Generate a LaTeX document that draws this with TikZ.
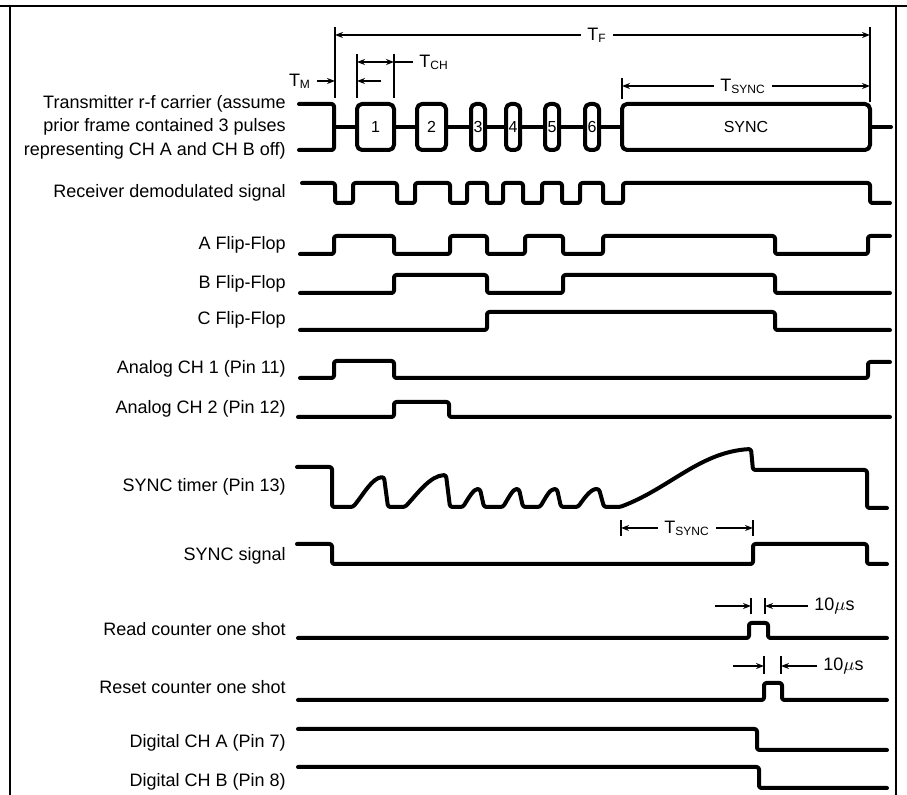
\documentclass[tikz,border=0pt]{standalone}
\usepackage{fontspec}
\setmainfont{Liberation Sans}
\usepackage{tikz}
\usetikzlibrary{arrows.meta}

\begin{document}
\begin{tikzpicture}[
  x=0.5pt, y=-0.5pt,
  every node/.style={font=\fontsize{9}{11.7}\selectfont, inner sep=1pt},
  lbl/.style={anchor=east, text height=1.6ex, text depth=0.45ex},
  dimtxt/.style={inner sep=3pt},
  boxtxt/.style={font=\fontsize{8}{9}\selectfont},
  wave/.style={line width=2pt, line join=round, line cap=round, rounded corners=1.2pt},
  dim/.style={line width=0.7pt},
  ptr/.style={line width=0.7pt, -{Stealth[length=4pt, width=3pt]}},
  both/.style={line width=0.7pt, {Stealth[length=4pt, width=3pt]}-{Stealth[length=4pt, width=3pt]}},
]
\useasboundingbox (0,0) rectangle (907,795);

%% Frame
\draw[line width=1pt] (0,6) -- (907,6);
\draw[line width=1pt] (10,6) -- (10,795);
\draw[line width=1pt] (896,6) -- (896,795);

%% Signal names
\node[anchor=east, align=right] (tx) at (288,127)
  {Transmitter r-f carrier (assume\\prior frame contained 3 pulses\\representing CH A and CH B off)};
\node[lbl] (rx)  at (288,191) {Receiver demodulated signal};
\node[lbl] (ffa) at (288,243) {A Flip-Flop};
\node[lbl] (ffb) at (288,282) {B Flip-Flop};
\node[lbl] (ffc) at (288,318) {C Flip-Flop};
\node[lbl] (an1) at (288,367) {Analog CH 1 (Pin 11)};
\node[lbl] (an2) at (288,407) {Analog CH 2 (Pin 12)};
\node[lbl] (stm) at (288,485) {SYNC timer (Pin 13)};
\node[lbl] (ssg) at (288,554) {SYNC signal};
\node[lbl] (rdc) at (288,629) {Read counter one shot};
\node[lbl] (rsc) at (288,687) {Reset counter one shot};
\node[lbl] (dga) at (288,741) {Digital CH A (Pin 7)};
\node[lbl] (dgb) at (288,780) {Digital CH B (Pin 8)};

%% Transmitter carrier
\draw[wave] (299,104) -| (334,150) -- (299,150);
\draw[wave] (334,127) -- (891,127);
\draw[wave, fill=white, rounded corners=2.5pt] (357,104) rectangle (394,150);
\draw[wave, fill=white, rounded corners=2.5pt] (417,104) rectangle (446,150);
\draw[wave, fill=white, rounded corners=2.5pt] (471,104) rectangle (485,150);
\draw[wave, fill=white, rounded corners=2.5pt] (506,104) rectangle (520,150);
\draw[wave, fill=white, rounded corners=2.5pt] (545,104) rectangle (559,150);
\draw[wave, fill=white, rounded corners=2.5pt] (585,104) rectangle (599,150);
\draw[wave, fill=white, rounded corners=2.5pt] (622,104) rectangle (870,150);
\node[boxtxt] (p1) at (375.5,127) {1};
\node[boxtxt] (p2) at (431.5,127) {2};
\node[boxtxt] (p3) at (478,127) {3};
\node[boxtxt] (p4) at (513,127) {4};
\node[boxtxt] (p5) at (552,127) {5};
\node[boxtxt] (p6) at (592,127) {6};
\node[boxtxt] (ps) at (746,127) {SYNC};

%% Receiver and flip-flops
\draw[wave] (302,183) -| (335,203) -| (353,183) -| (397,203) -| (415,183) -| (450,203)
  -| (467,183) -| (487,203) -| (503,183) -| (523,203) -| (542,183) -| (562,203)
  -| (580,183) -| (603,203) -| (623,183) -| (870,203) -- (890,203);
\draw[wave] (300,254) -| (334,236) -| (394,254) -| (450,236) -| (487,254) -| (525,236)
  -| (563,254) -| (603,236) -| (775,254) -| (868,236) -- (890,236);
\draw[wave] (300,293) -| (394,275) -| (487,293) -| (563,275) -| (775,293) -- (890,293);
\draw[wave] (300,330) -| (487,312) -| (775,330) -- (890,330);

%% Analog channels
\draw[wave] (300,378) -| (334,361) -| (394,378) -| (868,362) -- (890,362);
\draw[wave] (298,417) -| (394,402) -| (449,417) -- (890,417);

%% SYNC timer and SYNC signal
\draw[wave] (297,467) -| (332,507) -- (353,507)
  .. controls (363,495) and (372,478) .. (384,477) -- (388,507) -- (405,507)
  .. controls (418,493) and (430,476) .. (446,475) -- (450,507) -- (463,507)
  .. controls (469,497) and (474,489) .. (480,489) -- (484,507) -- (503,507)
  .. controls (509,497) and (513,489) .. (519,489) -- (523,507) -- (540,507)
  .. controls (546,497) and (550,489) .. (557,489) -- (561,507) -- (578,507)
  .. controls (585,497) and (591,489) .. (599,489) -- (604,507) -- (620,507)
  .. controls (670,488) and (700,452) .. (751,449) -- (753,470) -- (867,470)
  -- (867,508) -- (887,508);
\draw[wave] (297,544) -| (332,564) -| (753,544) -| (867,564) -- (887,564);

%% One shots and digital outputs
\draw[wave] (298,638) -| (749,623) -| (768,638) -- (887,638);
\draw[wave] (298,700) -| (764,683) -| (782,700) -- (887,700);
\draw[wave] (298,729) -| (757,750) -- (887,750);
\draw[wave] (298,767) -| (759,788) -- (887,788);

%% Frame period
\draw[dim] (335,27) -- (335,98);
\draw[dim] (870,27) -- (870,102);
\coordinate (tfl) at (335,35);
\coordinate (tfr) at (870,35);
\node[dimtxt] (tf) at (597,35) {T\textsubscript{F}};
\draw[ptr] (tf) -- (tfl);
\draw[ptr] (tf) -- (tfr);

%% Channel period and marker
\draw[dim] (357,54) -- (357,98);
\draw[dim] (394,54) -- (394,98);
\coordinate (chl) at (357,62);
\coordinate (chr) at (394,62);
\draw[both] (chl) -- (chr);
\node[dimtxt, anchor=west] (tch) at (413,62) {T\textsubscript{CH}};
\draw[dim] (chr) -- (tch);
\node[dimtxt] (tm) at (300,81) {T\textsubscript{M}};
\coordinate (tml) at (335,81);
\coordinate (tmr) at (357,81);
\coordinate (tmo) at (381,81);
\draw[ptr] (tm) -- (tml);
\draw[ptr] (tmo) -- (tmr);

%% Sync period (top)
\draw[dim] (622,78) -- (622,99);
\coordinate (sal) at (622,86);
\coordinate (sar) at (870,86);
\node[dimtxt] (tsa) at (743,86) {T\textsubscript{SYNC}};
\draw[ptr] (tsa) -- (sal);
\draw[ptr] (tsa) -- (sar);

%% Sync period (timer)
\draw[dim] (621,520) -- (621,536);
\draw[dim] (753,520) -- (753,536);
\coordinate (sbl) at (621,528);
\coordinate (sbr) at (753,528);
\node[dimtxt] (tsb) at (687,528) {T\textsubscript{SYNC}};
\draw[ptr] (tsb) -- (sbl);
\draw[ptr] (tsb) -- (sbr);

%% One shot widths
\draw[dim] (751,598) -- (751,614);
\draw[dim] (765,598) -- (765,614);
\coordinate (rdo) at (715,606);
\coordinate (rdl) at (751,606);
\coordinate (rdr) at (765,606);
\node[dimtxt, anchor=west] (rdt) at (808,606) {10$\mu$s};
\draw[ptr] (rdo) -- (rdl);
\draw[ptr] (rdt) -- (rdr);

\draw[dim] (764,656) -- (764,674);
\draw[dim] (781,656) -- (781,674);
\coordinate (rso) at (733,666);
\coordinate (rsl) at (764,666);
\coordinate (rsr) at (781,666);
\node[dimtxt, anchor=west] (rst) at (817,666) {10$\mu$s};
\draw[ptr] (rso) -- (rsl);
\draw[ptr] (rst) -- (rsr);

\end{tikzpicture}
\end{document}
